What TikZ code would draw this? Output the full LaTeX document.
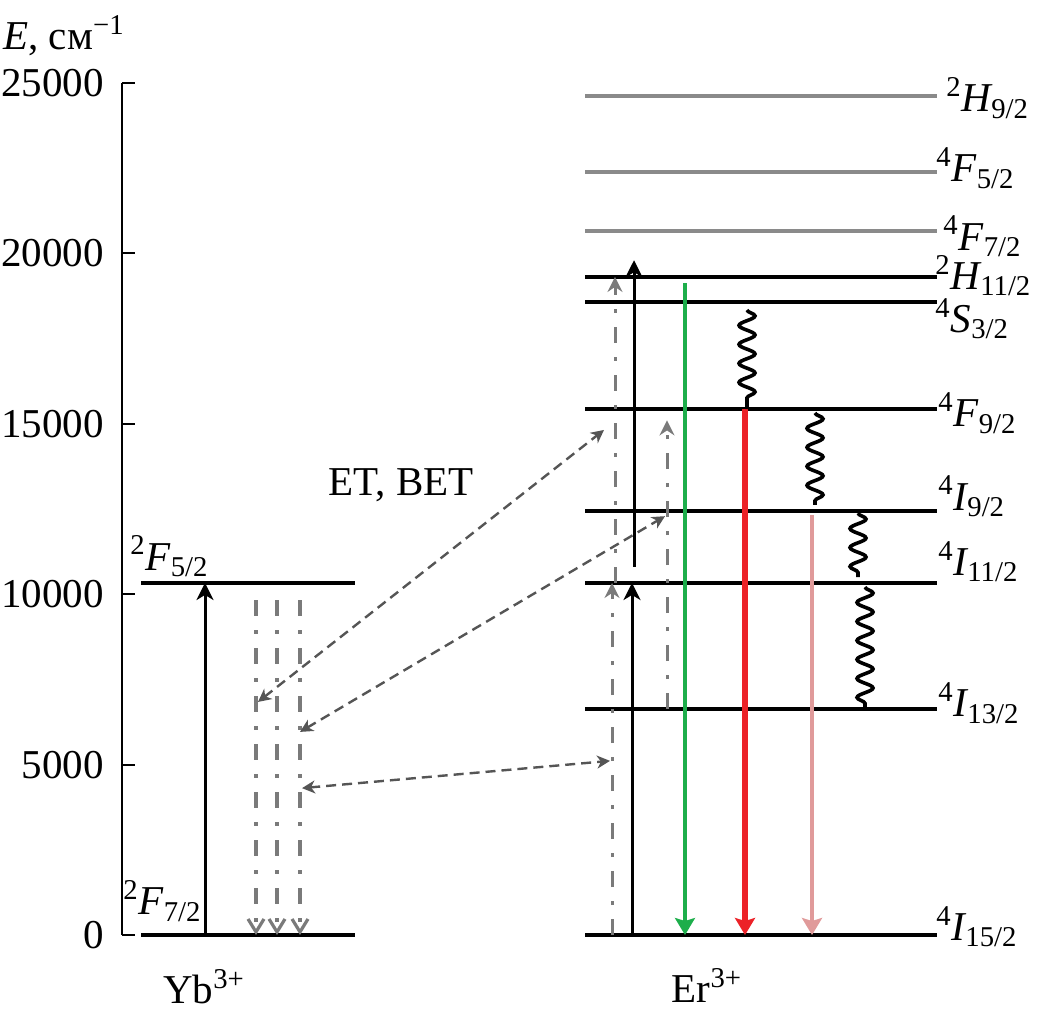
\documentclass[tikz,border=0pt]{standalone}
\usepackage{amsmath}
\usepackage{fontspec}
\setmainfont{Liberation Serif}
\usepackage{tikz}
\usetikzlibrary{arrows.meta,decorations.pathmorphing}
\definecolor{lvgray}{HTML}{8A8A8A}
\definecolor{ddgray}{HTML}{7A7A7A}
\definecolor{etgray}{HTML}{555555}
\definecolor{ergreen}{HTML}{1DAE4B}
\definecolor{erred}{HTML}{EC2228}
\definecolor{erpink}{HTML}{E09A9A}
\tikzset{
  axisline/.style={draw=black, line width=1pt},
  level/.style={draw=black, line width=2pt},
  graylevel/.style={draw=lvgray, line width=1.6pt},
  lab/.style={anchor=base west, inner sep=0pt},
  pump/.style={draw=black, line width=1.5pt, -{Stealth[length=8.5pt,width=8.5pt,inset=2.5pt]}},
  ybdown/.style={draw=ddgray, line width=1.6pt, dash pattern=on 8pt off 7pt on 2pt off 7pt,
    -{Straight Barb[length=6.5pt,width=8pt,line width=1.6pt]}},
  erup/.style={draw=ddgray, line width=1.5pt, dash pattern=on 8pt off 7pt on 2pt off 7pt,
    -{Stealth[length=7.5pt,width=7.5pt,inset=2.5pt]}},
  et/.style={draw=etgray, line width=1.2pt, dash pattern=on 5pt off 3pt,
    {Stealth[length=6.5pt,width=6.5pt,inset=2pt]}-{Stealth[length=6.5pt,width=6.5pt,inset=2pt]}},
  emit/.style={-{Stealth[length=8.5pt,width=10pt,inset=1.5pt]}},
  nonrad/.style={draw=black, line width=1.8pt, decorate,
    decoration={snake, amplitude=4pt, segment length=9.5pt, post length=1pt}},
}
\newcommand{\term}[3]{$^{\text{#1}}\textit{#2}_{\text{#3}}$}

\begin{document}
\begin{tikzpicture}[x=0.5pt, y=17.04pt, font=\fontsize{20.5}{24}\selectfont]
  \useasboundingbox (0,-2.406) rectangle (1037,27.436);

  % energy axis
  \draw[axisline] (122,25) -- (122,0);
  \foreach \e/\t in {0/0,5/5000,10/10000,15/15000,20/20000,25/25000} {
    \draw[axisline] (122,\e) -- (135,\e);
    \node[anchor=east, inner sep=0pt] (tick\e) at (104,\e) {\t};
  }
  \node[lab] (axlab) at (3,25.97) {\textit{E}, см$^{\text{−1}}$};

  % Yb levels
  \draw[level] (141,0) -- (355,0);
  \draw[level] (141,10.33) -- (355,10.33);
  \node[lab] (ybF5) at (130,10.71) {\term{2}{F}{5/2}};
  \node[lab] (ybF7) at (123,0.59) {\term{2}{F}{7/2}};
  \node[anchor=base] (yb) at (204,-2.0) {Yb$^{\text{3+}}$};

  % Er levels
  \foreach \e in {24.62,22.39,20.66}
    \draw[graylevel] (585,\e) -- (937,\e);
  \foreach \e in {19.31,18.57,15.43,12.44,10.33,6.63,0}
    \draw[level] (585,\e) -- (937,\e);
  \node[lab] (H9) at (946,24.15) {\term{2}{H}{9/2}};
  \node[lab] (F5) at (936,22.10) {\term{4}{F}{5/2}};
  \node[lab] (F7) at (943,20.10) {\term{4}{F}{7/2}};
  \node[lab] (H11) at (935,18.95) {\term{2}{H}{11/2}};
  \node[lab] (S3) at (935,17.69) {\term{4}{S}{3/2}};
  \node[lab] (F9) at (938,14.91) {\term{4}{F}{9/2}};
  \node[lab] (I9) at (938,12.47) {\term{4}{I}{9/2}};
  \node[lab] (I11) at (938,10.56) {\term{4}{I}{11/2}};
  \node[lab] (I13) at (938,6.40) {\term{4}{I}{13/2}};
  \node[lab] (I15) at (936,-0.15) {\term{4}{I}{15/2}};
  \node[anchor=base] (er) at (707,-1.97) {Er$^{\text{3+}}$};

  % Yb pump and decay
  \draw[pump] (205,0) -- (205,10.33);
  \foreach \x in {256,277,300}
    \draw[ybdown] (\x,9.83) -- (\x,0);

  % energy transfer
  \node[anchor=base] (etlab) at (401,12.91) {ET, BET};
  \coordinate (ybA) at (258,6.84);  \coordinate (erA) at (604,14.82);
  \coordinate (ybB) at (300,5.96);  \coordinate (erB) at (665,12.29);
  \coordinate (ybC) at (302,4.31);  \coordinate (erC) at (610,5.11);
  \draw[et] (ybA) -- (erA);
  \draw[et] (ybB) -- (erB);
  \draw[et] (ybC) -- (erC);

  % Er excitation
  \draw[erup] (612,0) -- (612,10.33);
  \draw[erup] (615,10.33) -- (615,19.31);
  \draw[erup] (667,6.63) -- (667,15.1);
  \draw[pump] (632,0) -- (632,10.33);
  \draw[pump] (634,10.8) -- (634,19.8);

  % emission
  \draw[emit, draw=ergreen, fill=ergreen, line width=1.6pt] (685,19.13) -- (685,0);
  \draw[emit, draw=erred, fill=erred, line width=2.6pt] (745,15.43) -- (745,0);
  \draw[emit, draw=erpink, fill=erpink, line width=2.2pt] (812,12.32) -- (812,0);

  % non-radiative relaxation
  \draw[nonrad] (747,18.34) -- (747,15.43);
  \draw[nonrad] (815,15.32) -- (815,12.62);
  \draw[nonrad] (858,12.38) -- (858,10.5);
  \draw[nonrad] (865,10.21) -- (865,6.66);
\end{tikzpicture}
\end{document}
